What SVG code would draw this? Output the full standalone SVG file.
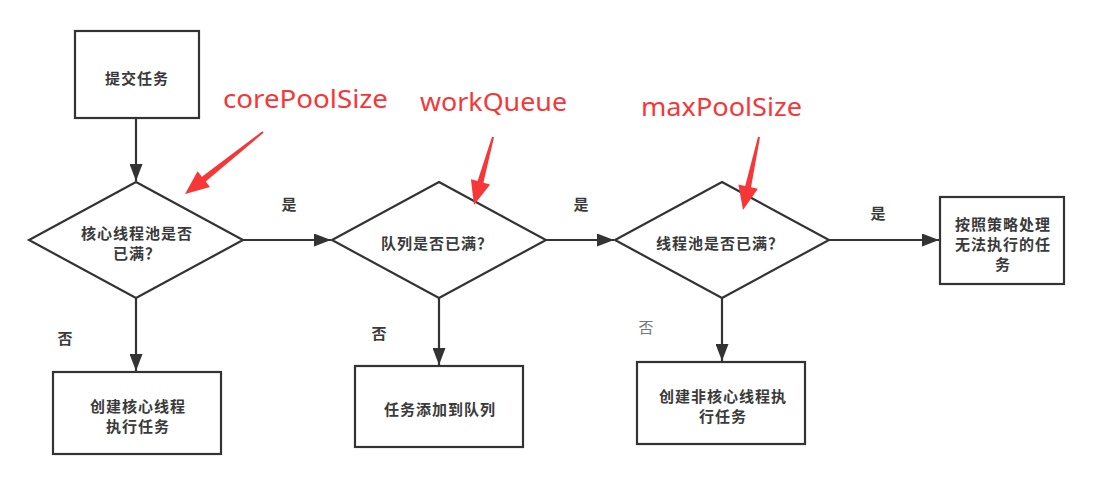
<svg xmlns="http://www.w3.org/2000/svg" width="1094" height="488" viewBox="0 0 1094 488">
<defs>
<style>
.box{fill:#fff;stroke:#333;stroke-width:2.2}
.t{font-family:"Noto Sans CJK SC","Noto Sans",sans-serif;font-size:15px;letter-spacing:1px;font-weight:bold;fill:#3a3a3a;text-anchor:middle;dominant-baseline:central}
.lbl{font-family:"Noto Sans CJK SC","Noto Sans",sans-serif;font-size:15px;font-weight:bold;fill:#3a3a3a;text-anchor:middle;dominant-baseline:central}
.conn{fill:none;stroke:#333;stroke-width:2.2}
.red{font-family:"Noto Sans","Liberation Sans",sans-serif;font-size:25px;fill:#f73737}
.ra{fill:#f73737}
</style>
<marker id="ah" markerUnits="userSpaceOnUse" markerWidth="18" markerHeight="13" refX="17" refY="6.5" orient="auto">
<path d="M0,0 L17,6.5 L0,13 z" fill="#333"/>
</marker>
</defs>
<rect width="1094" height="488" fill="#fff"/>

<g id="connectors">
<line class="conn" x1="136" y1="118" x2="136" y2="181" marker-end="url(#ah)"/>
<line class="conn" x1="243" y1="240" x2="331" y2="240" marker-end="url(#ah)"/>
<line class="conn" x1="546" y1="240" x2="614" y2="240" marker-end="url(#ah)"/>
<line class="conn" x1="829" y1="240" x2="939" y2="240" marker-end="url(#ah)"/>
<line class="conn" x1="136" y1="298" x2="136" y2="371" marker-end="url(#ah)"/>
<line class="conn" x1="439" y1="298" x2="439" y2="365" marker-end="url(#ah)"/>
<line class="conn" x1="722" y1="298" x2="722" y2="361" marker-end="url(#ah)"/>
<text class="lbl" x="289" y="203">是</text>
<text class="lbl" x="581" y="203">是</text>
<text class="lbl" x="878" y="212">是</text>
<text class="lbl" x="65" y="337">否</text>
<text class="lbl" x="379" y="332">否</text>
<text class="lbl" x="646" y="326" style="fill:#777;font-weight:normal">否</text>
</g>

<g id="submit">
<rect class="box" x="75" y="31" width="124" height="87"/>
<text class="t" x="137" y="77">提交任务</text>
</g>

<g id="core-full">
<polygon class="box" points="136,182 243,240 136,298 29,240"/>
<text class="t" x="137" y="232">核心线程池是否</text>
<text class="t" x="137" y="252">已满？</text>
</g>

<g id="queue-full">
<polygon class="box" points="439,182 546,240 439,298 332,240"/>
<text class="t" x="437" y="242">队列是否已满？</text>
</g>

<g id="pool-full">
<polygon class="box" points="722,182 829,240 722,298 615,240"/>
<text class="t" x="720" y="242">线程池是否已满？</text>
</g>

<g id="reject">
<rect class="box" x="940" y="197" width="124" height="87"/>
<text class="t" x="1003" y="223">按照策略处理</text>
<text class="t" x="1003" y="243">无法执行的任</text>
<text class="t" x="1003" y="263">务</text>
</g>

<g id="create-core">
<rect class="box" x="53" y="372" width="168" height="82"/>
<text class="t" x="138" y="405">创建核心线程</text>
<text class="t" x="138" y="425">执行任务</text>
</g>

<g id="add-queue">
<rect class="box" x="355" y="366" width="168" height="81"/>
<text class="t" x="440" y="408">任务添加到队列</text>
</g>

<g id="create-noncore">
<rect class="box" x="637" y="362" width="168" height="82"/>
<text class="t" x="723" y="395">创建非核心线程执</text>
<text class="t" x="723" y="415">行任务</text>
</g>

<g id="annotations">
<text class="red" x="223" y="108" textLength="165" lengthAdjust="spacingAndGlyphs">corePoolSize</text>
<polygon class="ra" points="262.4,131.2 201.9,176.8 197.6,171.3 185,194 210.0,186.9 205.7,181.4 263.6,132.8"/>
<text class="red" x="420" y="111" textLength="147" lengthAdjust="spacingAndGlyphs">workQueue</text>
<polygon class="ra" points="492.0,136.7 477.6,181.1 470.9,179.2 474,205 490.1,184.6 483.4,182.7 494.0,137.3"/>
<text class="red" x="641" y="116" textLength="161" lengthAdjust="spacingAndGlyphs">maxPoolSize</text>
<polygon class="ra" points="758.0,136.8 745.2,185.9 738.4,184.4 743,210 757.9,188.7 751.0,187.2 760.0,137.2"/>
</g>
</svg>
